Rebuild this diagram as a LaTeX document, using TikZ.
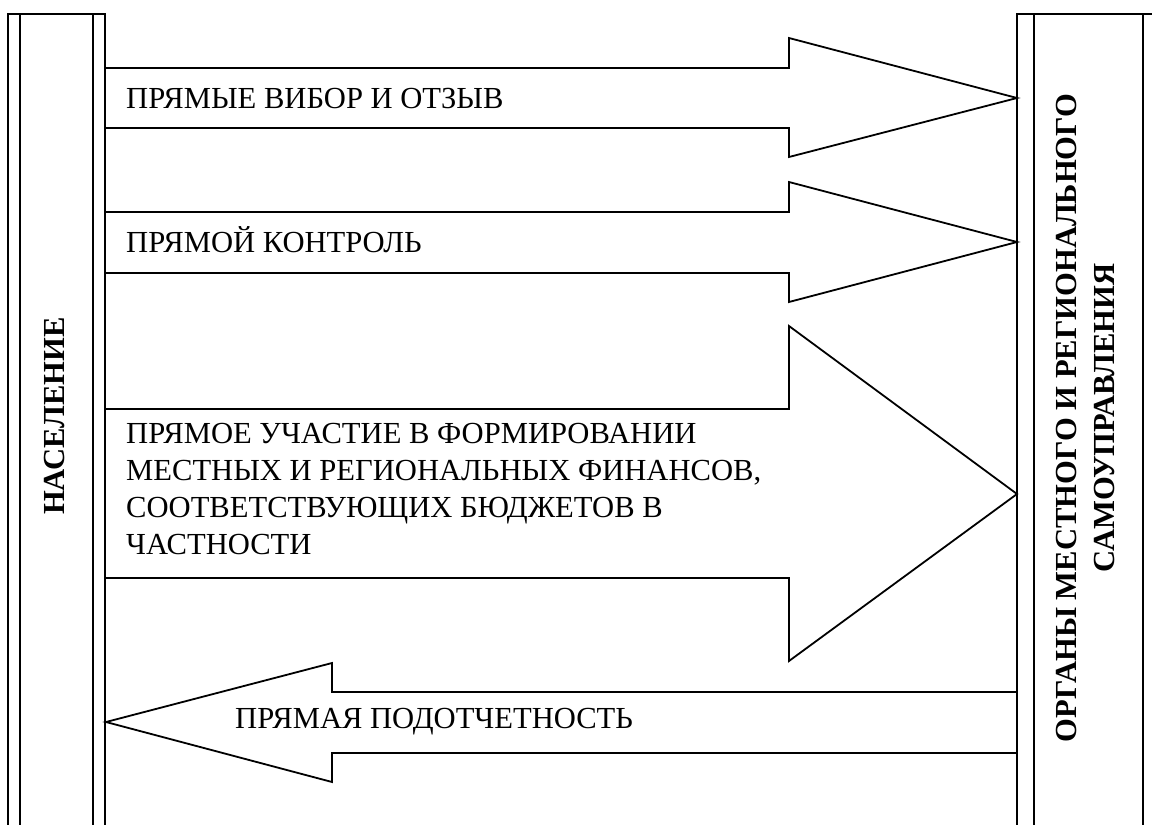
\documentclass[tikz,border=0pt]{standalone}
\usepackage{fontspec}
\setmainfont{Liberation Serif}
\begin{document}
\begin{tikzpicture}[x=1pt,y=-1pt,
  outline/.style={draw=black,line width=1.8pt,line join=miter},
  lbl/.style={inner sep=0pt,anchor=base west,font=\fontsize{30.6}{36}\selectfont},
  vlbl/.style={inner sep=0pt,rotate=90,font=\fontsize{30.6}{38}\selectfont\bfseries,align=center}]
\useasboundingbox (0,0) rectangle (1152,825);
% left bar (population)
\draw[outline] (8,826) -- (8,14) -- (105,14) -- (105,826);
\draw[outline] (20,14) -- (20,826);
\draw[outline] (93,14) -- (93,826);
% right bar (authorities)
\draw[outline] (1017,826) -- (1017,14) -- (1153,14);
\draw[outline] (1034,14) -- (1034,826);
\draw[outline] (1143,14) -- (1143,826);
% arrow 1
\draw[outline] (105,68) -- (789,68) -- (789,38) -- (1017,98) -- (789,157) -- (789,128) -- (105,128);
% arrow 2
\draw[outline] (105,212) -- (789,212) -- (789,182) -- (1017,242) -- (789,302) -- (789,273) -- (105,273);
% arrow 3
\draw[outline] (105,409) -- (789,409) -- (789,326) -- (1017,494) -- (789,661) -- (789,578) -- (105,578);
% arrow 4 (back)
\draw[outline] (1017,692) -- (332,692) -- (332,663) -- (106,722) -- (332,782) -- (332,753) -- (1017,753);
% labels
\node[lbl] (t1) at (126,108) {ПРЯМЫЕ ВИБОР И ОТЗЫВ};
\node[lbl] (t2) at (126,252) {ПРЯМОЙ КОНТРОЛЬ};
\node[lbl] (t3a) at (126,443) {ПРЯМОЕ УЧАСТИЕ В ФОРМИРОВАНИИ};
\node[lbl] (t3b) at (126,480) {МЕСТНЫХ И РЕГИОНАЛЬНЫХ ФИНАНСОВ,};
\node[lbl] (t3c) at (126,517) {СООТВЕТСТВУЮЩИХ БЮДЖЕТОВ В};
\node[lbl] (t3d) at (126,554) {ЧАСТНОСТИ};
\node[lbl] (t4) at (235,728) {ПРЯМАЯ ПОДОТЧЕТНОСТЬ};
\node[vlbl] (pop) at (55,416) {НАСЕЛЕНИЕ};
\node[vlbl] (org) at (1086,418) {ОРГАНЫ МЕСТНОГО И РЕГИОНАЛЬНОГО\\САМОУПРАВЛЕНИЯ};
\end{tikzpicture}
\end{document}
